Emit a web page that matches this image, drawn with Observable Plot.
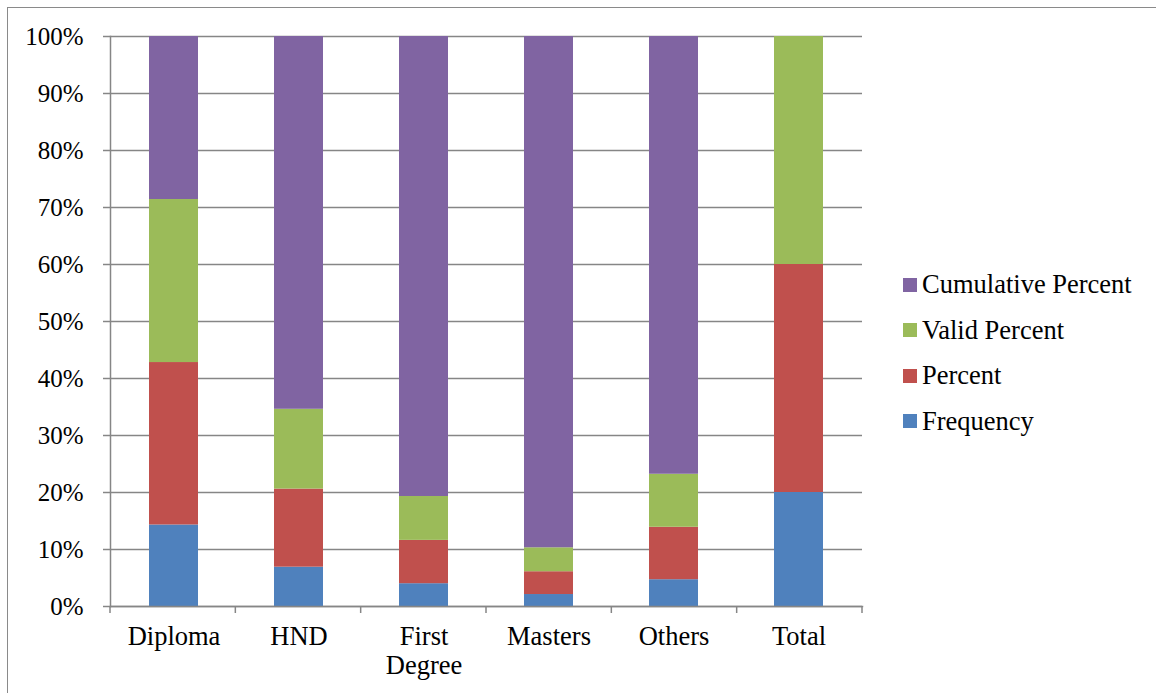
<!DOCTYPE html>
<html>
<head>
<meta charset="utf-8">
<script src="https://cdn.jsdelivr.net/npm/d3@7"></script>
<script src="https://cdn.jsdelivr.net/npm/@observablehq/plot@0.6"></script>
<style>
  html, body { margin: 0; padding: 0; background: #fff; overflow: hidden; }
  #wrap { position: relative; width: 1156px; height: 693px; font-family: 'Liberation Serif', 'Times New Roman', serif; }
  #border { position: absolute; left: 7px; top: 7px; width: 1200px; height: 800px; border-left: 1.5px solid #8a8a8a; border-top: 1.5px solid #8a8a8a; }
  #chart { position: absolute; left: 0; top: 0; }
  #legend { position: absolute; left: 903px; top: 262px; }
  .row { display: flex; align-items: center; height: 45.5px; font-size: 26.5px; color: #000; white-space: nowrap; }
  .sw { width: 14px; height: 14px; margin-right: 5px; flex: none; }
  #wrap svg text, #wrap svg tspan { font-family: 'Liberation Serif', 'Times New Roman', serif; }
</style>
</head>
<body>
<div id="wrap">
  <div id="border"></div>
  <div id="chart"></div>
  <div id="legend"></div>
</div>
<script>
const categories = ["Diploma", "HND", "First Degree", "Masters", "Others", "Total"];
const seriesNames = ["Frequency", "Percent", "Valid Percent", "Cumulative Percent"];
const seriesColors = ["#4F81BD", "#C0504D", "#9BBB59", "#8064A2"];
// share of each bar (%)
const frequency = [14.3, 6.9, 4.0, 2.1, 4.7, 20.0];
const percent = [28.5, 13.7, 7.6, 4.0, 9.2, 40.0];
const validPercent = [28.6, 14.0, 7.7, 4.2, 9.3, 40.0];
const cumulativePercent = [28.6, 65.4, 80.7, 89.7, 76.8, 0];
const yTicks = [0, 10, 20, 30, 40, 50, 60, 70, 80, 90, 100];

const seriesValues = [frequency, percent, validPercent, cumulativePercent];
const data = [];
categories.forEach((c, i) => {
  seriesNames.forEach((s, j) => data.push({category: c, series: s, value: seriesValues[j][i]}));
});

const gridColor = "#868686";
const font = "'Liberation Serif', 'Times New Roman', serif";

const boundaryTicks = (index, scales, values, dimensions) => {
  const {width, height, marginLeft, marginRight, marginBottom} = dimensions;
  const n = categories.length;
  const step = (width - marginLeft - marginRight) / n;
  const g = d3.create("svg:g").attr("stroke", gridColor).attr("stroke-width", 1.5);
  for (let i = 0; i <= n; i++) {
    g.append("line")
      .attr("x1", marginLeft + i * step).attr("x2", marginLeft + i * step)
      .attr("y1", height - marginBottom).attr("y2", height - marginBottom + 7);
  }
  return g.node();
};

const chart = Plot.plot({
  width: 1156,
  height: 693,
  marginLeft: 110,
  marginRight: 294,
  marginTop: 36,
  marginBottom: 87,
  style: {fontFamily: font, background: "transparent", color: "#000"},
  x: {domain: categories, paddingInner: 0.61, paddingOuter: 0.305, axis: null},
  y: {domain: [0, 100], axis: null},
  color: {domain: seriesNames, range: seriesColors},
  marks: [
    Plot.gridY(yTicks, {stroke: gridColor, strokeOpacity: 1, strokeWidth: 1.5}),
    Plot.axisY(yTicks, {tickSize: 7, tickPadding: 20, stroke: gridColor, strokeWidth: 1.5, fontSize: 25, fontFamily: font, fill: "#000", tickFormat: d => d + "%", label: null}),
    Plot.barY(data, {x: "category", y: "value", fill: "series"}),
    Plot.frame({anchor: "left", stroke: gridColor, strokeWidth: 1.5}),
    Plot.frame({anchor: "bottom", stroke: gridColor, strokeWidth: 1.5}),
    boundaryTicks,
    Plot.axisX({tickSize: 0, tickPadding: 18, fontSize: 26.5, fontFamily: font, fill: "#000", lineHeight: 1.1, label: null,
      tickFormat: d => d === "First Degree" ? "First\nDegree" : d})
  ]
});
document.getElementById("chart").appendChild(chart);

const legend = document.getElementById("legend");
[3, 2, 1, 0].forEach(j => {
  const row = document.createElement("div");
  row.className = "row";
  const sw = document.createElement("span");
  sw.className = "sw";
  sw.style.background = seriesColors[j];
  const t = document.createElement("span");
  t.textContent = seriesNames[j];
  row.appendChild(sw);
  row.appendChild(t);
  legend.appendChild(row);
});
</script>
</body>
</html>
